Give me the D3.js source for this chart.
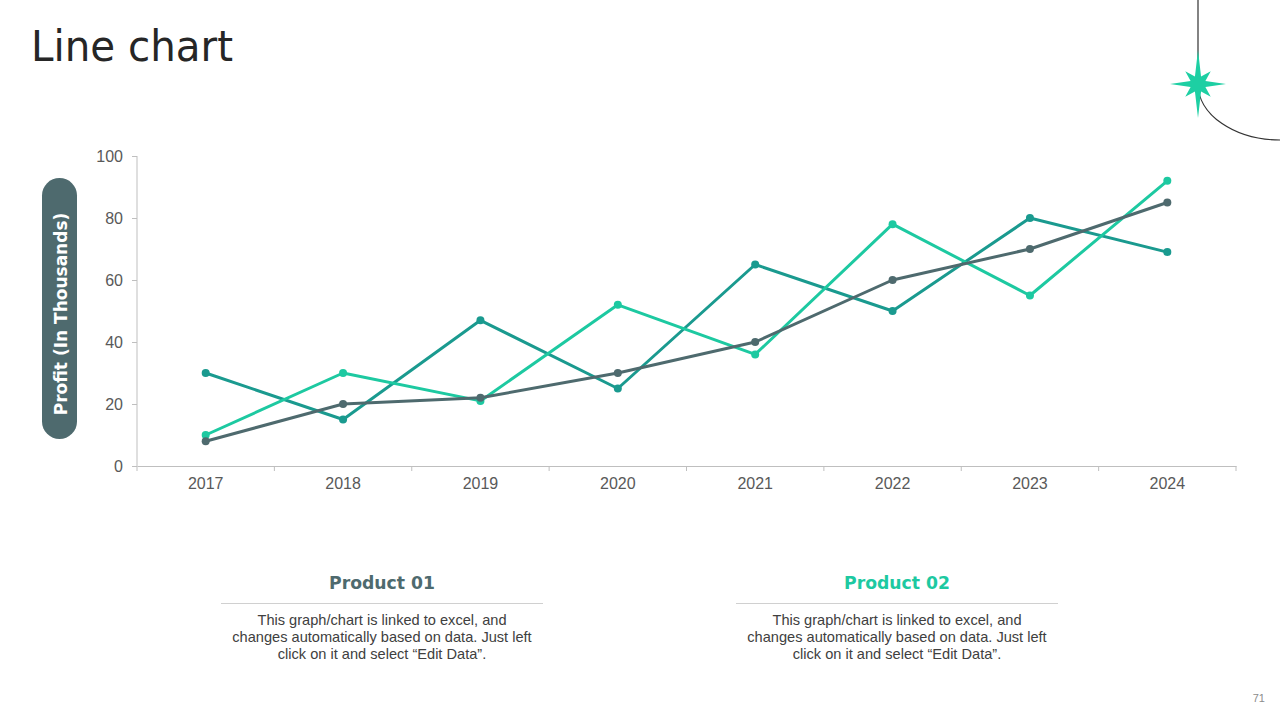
<!DOCTYPE html>
<html>
<head>
<meta charset="utf-8">
<script src="https://cdn.jsdelivr.net/npm/d3@7"></script>
<style>
  html, body { margin: 0; padding: 0; background: #fff; }
  svg { display: block; }
</style>
</head>
<body>
<svg id="chart" width="1280" height="720"></svg>
<script>
const years = ["2017", "2018", "2019", "2020", "2021", "2022", "2023", "2024"];
const seriesTeal = [30, 15, 47, 25, 65, 50, 80, 69];
const seriesGreen = [10, 30, 21, 52, 36, 78, 55, 92];
const seriesGrey = [8, 20, 22, 30, 40, 60, 70, 85];
const yTicks = [0, 20, 40, 60, 80, 100];
const seriesList = [
  { name: "Series 1", values: seriesTeal, color: "#1a9a8f" },
  { name: "Series 2", values: seriesGreen, color: "#1dc9a1" },
  { name: "Series 3", values: seriesGrey, color: "#4e6a6e" }
];

const svg = d3.select("#chart");
const font = "'Liberation Sans', Arial, sans-serif";

// Title
svg.append("text").attr("x", 31).attr("y", 61)
  .attr("font-family", "'DejaVu Sans', 'Liberation Sans', sans-serif")
  .attr("font-size", 42).attr("fill", "#262626")
  .attr("textLength", 202).attr("lengthAdjust", "spacingAndGlyphs")
  .style("font-weight", 400)
  .text("Line chart");

// Decoration top right
svg.append("path")
  .attr("d", "M1198,0 L1198,84 A82,56 0 0 0 1280,140")
  .attr("fill", "none").attr("stroke", "#333").attr("stroke-width", 1.2);
const cx = 1198, cy = 84;
const pts = [];
for (let i = 0; i < 16; i++) {
  const ang = i * Math.PI / 8 - Math.PI / 2;
  let r;
  if (i % 4 === 0) r = (i % 8 === 0) ? 34 : 28;
  else if (i % 2 === 0) r = 18;
  else r = 8;
  pts.push([cx + r * Math.cos(ang), cy + r * Math.sin(ang)]);
}
svg.append("path").attr("d", "M" + pts.map(p => p.join(",")).join("L") + "Z")
  .attr("fill", "#1dcfa3");

// Chart
const x = d3.scaleBand().domain(years).range([137, 1236]);
const y = d3.scaleLinear().domain([0, 100]).range([466, 156]);

const xAxis = svg.append("g").attr("transform", "translate(0,466)")
  .call(d3.axisBottom(x).tickSize(0).tickPadding(12));
xAxis.select(".domain").attr("stroke", "#bfbfbf");
xAxis.selectAll("text").attr("font-family", font).attr("font-size", 16).attr("fill", "#595959");
// boundary ticks
const bounds = years.map(d => x(d)).concat([x.range()[1]]);
xAxis.selectAll("line.bt").data(bounds).enter().append("line").attr("class", "bt")
  .attr("x1", d => d).attr("x2", d => d).attr("y1", 0).attr("y2", 5)
  .attr("stroke", "#bfbfbf");

const yAxis = svg.append("g").attr("transform", "translate(137,0)")
  .call(d3.axisLeft(y).tickValues(yTicks).tickSize(5).tickPadding(9));
yAxis.select(".domain").attr("stroke", "#bfbfbf").attr("d", "M0,156V466");
yAxis.selectAll(".tick line").attr("stroke", "#bfbfbf");
yAxis.selectAll("text").attr("font-family", font).attr("font-size", 16).attr("fill", "#595959");

// Lines
const line = d3.line().x((d, i) => x(years[i]) + x.bandwidth() / 2).y(d => y(d));
seriesList.forEach(s => {
  const g = svg.append("g");
  g.append("path").datum(s.values).attr("d", line)
    .attr("fill", "none").attr("stroke", s.color).attr("stroke-width", 3)
    .attr("stroke-linejoin", "round");
  g.selectAll("circle").data(s.values).enter().append("circle")
    .attr("cx", (d, i) => x(years[i]) + x.bandwidth() / 2)
    .attr("cy", d => y(d)).attr("r", 4).attr("fill", s.color);
});

// Y label pill
svg.append("rect").attr("x", 42).attr("y", 178).attr("width", 35).attr("height", 261)
  .attr("rx", 17.5).attr("fill", "#4e6a6e");
svg.append("text").attr("transform", "translate(67,314) rotate(-90)")
  .attr("text-anchor", "middle").attr("font-family", "'DejaVu Sans', sans-serif")
  .attr("font-weight", "bold").attr("font-size", 17).attr("fill", "#fff")
  .text("Profit (In Thousands)");

// Bottom text blocks
const blocks = [
  { title: "Product 01", color: "#4e6a6e", cx: 382 },
  { title: "Product 02", color: "#1dc9a1", cx: 897 }
];
const body = ["This graph/chart is linked to excel, and",
  "changes automatically based on data. Just left",
  "click on it and select \u201CEdit Data\u201D."];
blocks.forEach(b => {
  svg.append("text").attr("x", b.cx).attr("y", 589).attr("text-anchor", "middle")
    .attr("font-family", "'DejaVu Sans', sans-serif").attr("font-weight", "bold")
    .attr("font-size", 18).attr("fill", b.color)
    .attr("textLength", 106).attr("lengthAdjust", "spacingAndGlyphs")
    .text(b.title);
  svg.append("line").attr("x1", b.cx - 161).attr("x2", b.cx + 161)
    .attr("y1", 603.5).attr("y2", 603.5).attr("stroke", "#d0d0d0").attr("stroke-width", 1);
  body.forEach((t, i) => {
    svg.append("text").attr("x", b.cx).attr("y", 625 + i * 17).attr("text-anchor", "middle")
      .attr("font-family", font).attr("font-size", 14.6).attr("fill", "#404040").text(t);
  });
});

// Page number
svg.append("text").attr("x", 1265).attr("y", 702).attr("text-anchor", "end")
  .attr("font-family", font).attr("font-size", 11).attr("fill", "#8c8c8c").text("71");
</script>
</body>
</html>
